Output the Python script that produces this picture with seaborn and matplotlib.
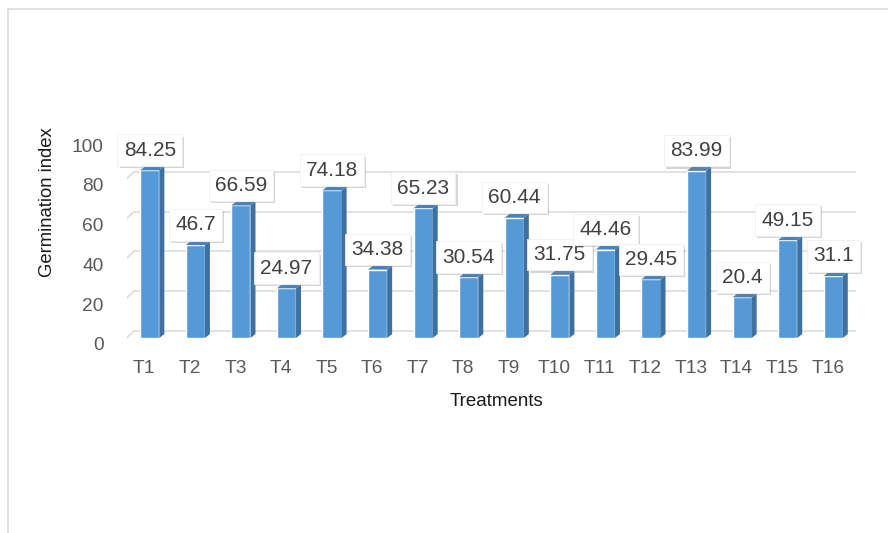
import matplotlib
matplotlib.use("Agg")
import matplotlib.pyplot as plt
import matplotlib.patheffects as pe
from matplotlib.patches import Polygon, Rectangle
from matplotlib.transforms import offset_copy, ScaledTranslation
import seaborn as sns
import pandas as pd

# data
treatments = ["T1", "T2", "T3", "T4", "T5", "T6", "T7", "T8",
              "T9", "T10", "T11", "T12", "T13", "T14", "T15", "T16"]
germination = [84.25, 46.7, 66.59, 24.97, 74.18, 34.38, 65.23, 30.54,
               60.44, 31.75, 44.46, 29.45, 83.99, 20.4, 49.15, 31.1]
yticks = [0, 20, 40, 60, 80, 100]

df = pd.DataFrame({"treatment": treatments, "gi": germination})

sns.set_style("white")
plt.rcParams['font.family'] = ['Liberation Sans', 'DejaVu Sans']

W, H = 888, 533
fig = plt.figure(figsize=(W / 100, H / 100), dpi=100)
fig.patch.set_facecolor("white")

# axes box = front plane of the bars (pixels measured on the reference)
left, right, bottom, top = 127, 856, 338, 139
ax = fig.add_axes([left / W, 1 - bottom / H, (right - left) / W, (bottom - top) / H])
ax.set_facecolor("none")

front = "#559AD6"
side = "#3F71A0"
topc = "#4682BD"

sns.barplot(data=df, x="treatment", y="gi", color=front, width=0.42,
            saturation=1, ax=ax, zorder=3)
ax.set_xlim(-0.5, len(treatments) - 0.5)
ax.set_ylim(0, 100)

# depth of the pseudo 3D columns in data units
px_x = len(treatments) / (right - left)
px_y = 100 / (bottom - top)
dx, dy = 5 * px_x, 4 * px_y

for p in ax.patches[:len(treatments)]:
    x0, w, h = p.get_x(), p.get_width(), p.get_height()
    x1 = x0 + w
    ax.add_patch(Polygon([(x1, 0), (x1 + dx, dy), (x1 + dx, h + dy), (x1, h)],
                         closed=True, facecolor=side, edgecolor="none", zorder=3))
    ax.add_patch(Polygon([(x0, h), (x0 + dx, h + dy), (x1 + dx, h + dy), (x1, h)],
                         closed=True, facecolor=topc, edgecolor="none", zorder=3))

# back-wall gridlines + side-wall diagonals
back = offset_copy(ax.transData, fig, x=7, y=7, units="dots")
ax.hlines(yticks, -0.5, len(treatments) - 0.5, colors="#dcd8d5", lw=1.1,
          transform=back, zorder=1)
for v in yticks:
    xa, ya = ax.transData.transform((-0.5, v))
    ax.plot([xa - 7, xa + 7], [ya - 6, ya + 7], color="#dcd8d5", lw=1.1,
            transform=None, zorder=1)

# value labels in white boxes
for i, v in enumerate(germination):
    t = ax.annotate(f"{v:g}", (i, v), xytext=(0, 14.5), textcoords="offset points",
                    ha="center", va="center", fontsize=15, color="#404040", zorder=5,
                    bbox=dict(boxstyle="square,pad=0.3", fc="white", ec="#f0f0f0", lw=0.6))
    t.get_bbox_patch().set_path_effects([
        pe.SimplePatchShadow(offset=(1.5, -1.5), shadow_rgbFace="#888888", alpha=0.35),
        pe.Normal()])

for s in ax.spines.values():
    s.set_visible(False)
ax.set_yticks(yticks)
ax.tick_params(axis="both", length=0, labelsize=13.8, labelcolor="#595959")
ax.tick_params(axis="y", pad=17)
ax.tick_params(axis="x", pad=16)
for lab in ax.get_yticklabels():
    lab.set_transform(lab.get_transform() + ScaledTranslation(0, -0.06, fig.dpi_scale_trans))
for lab in ax.get_xticklabels():
    lab.set_transform(lab.get_transform() + ScaledTranslation(-0.055, 0, fig.dpi_scale_trans))
ax.set_xlabel("")
ax.set_ylabel("")

fig.text(496 / W, 1 - 401 / H, "Treatments", ha="center", va="center",
         fontsize=13.5, color="#1a1a1a")
fig.text(48 / W, 1 - 202 / H, "Germination index", ha="center", va="center",
         rotation=90, fontsize=13.3, color="#1a1a1a")

# outer chart border
fig.patches.append(Rectangle((8 / W, -0.05), 1.2, 1.05 - 9 / H, transform=fig.transFigure,
                             fill=False, edgecolor="#dedad7", lw=1.2))

fig.savefig("out.png", dpi=100)
